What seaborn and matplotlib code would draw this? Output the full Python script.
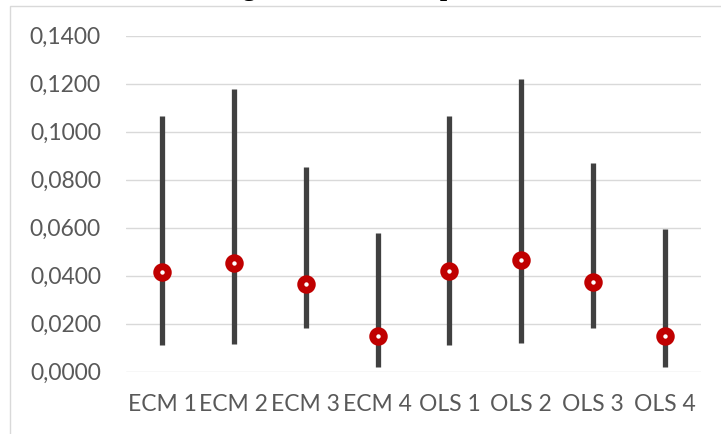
import matplotlib
matplotlib.use("Agg")
import matplotlib.pyplot as plt
from matplotlib.patches import Rectangle
import seaborn as sns
import pandas as pd

# RMSE range per model: minimum, mean and maximum
models = ["ECM 1", "ECM 2", "ECM 3", "ECM 4", "OLS 1", "OLS 2", "OLS 3", "OLS 4"]
rmse_min = [0.0110, 0.0115, 0.0183, 0.0021, 0.0110, 0.0118, 0.0183, 0.0021]
rmse_mean = [0.0417, 0.0454, 0.0367, 0.0149, 0.0420, 0.0464, 0.0372, 0.0150]
rmse_max = [0.1065, 0.1179, 0.0854, 0.0579, 0.1067, 0.1220, 0.0870, 0.0595]
y_ticks = [0.0, 0.02, 0.04, 0.06, 0.08, 0.10, 0.12, 0.14]
title = "Chart 4. RMSE range of the forecast period"

# long table: three observations per model, median = mean value, full range = min..max
rows = []
for m, lo, mid, hi in zip(models, rmse_min, rmse_mean, rmse_max):
    for v in (lo, mid, hi):
        rows.append({"model": m, "rmse": v})
df = pd.DataFrame(rows)

sns.set_theme(style="white")
plt.rcParams["font.family"] = ["Lato", "DejaVu Sans"]

fig = plt.figure(figsize=(7.21, 4.34), dpi=100)
ax = fig.add_axes([126 / 721, 1 - 371.7 / 434, 575 / 721, 336 / 434])

# chart-area frame
fig.patches.append(Rectangle((10 / 721, -0.1), 1.2, 1 - 6.5 / 434 + 0.1,
                             transform=fig.transFigure, fill=False,
                             edgecolor="#D9D9D9", linewidth=1.0, zorder=0))

sns.pointplot(data=df, x="model", y="rmse", order=models,
              estimator="median", errorbar=("pi", 100),
              linestyle="none", marker="o", color="#C00000",
              markersize=8.3, markerfacecolor="white",
              markeredgecolor="#C00000", markeredgewidth=5.0,
              err_kws={"color": "#404040", "linewidth": 3.8,
                       "solid_capstyle": "butt", "zorder": 2},
              ax=ax)
for coll in ax.lines:
    if coll.get_marker() == "o":
        coll.set_zorder(4)

ax.set_ylim(0, 0.14)
ax.set_xlim(-0.5, len(models) - 0.5)
ax.set_yticks(y_ticks)
ax.set_yticklabels([f"{t:.4f}".replace(".", ",") for t in y_ticks])
ax.yaxis.grid(True, color="#D9D9D9", linewidth=1.0)
ax.set_axisbelow(True)
for s in ax.spines.values():
    s.set_visible(False)
ax.tick_params(axis="y", length=0, pad=18, labelsize=16.5, labelcolor="#595959")
ax.tick_params(axis="x", length=0, pad=16, labelsize=16.5, labelcolor="#595959")
ax.set_xlabel("")
ax.set_ylabel("")

# heading sits above the frame, mostly beyond the top edge
fig.text(20 / 721, 1 + 4 / 434, title, ha="left", va="baseline",
         fontsize=19, fontweight="bold", family=["Liberation Serif"], color="black")

fig.savefig("out.png", dpi=100, facecolor="white")
